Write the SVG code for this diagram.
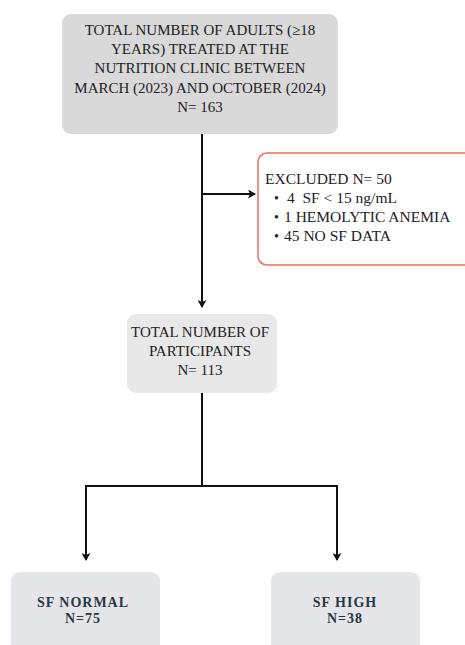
<svg xmlns="http://www.w3.org/2000/svg" width="465" height="645" viewBox="0 0 465 645">
<defs>
<style>
.t{font-family:"Liberation Serif","Times New Roman",serif;font-size:15px;fill:#222;text-anchor:middle}
.ex{font-family:"Liberation Serif","Times New Roman",serif;font-size:15.5px;fill:#222}
.bu{font-family:"Liberation Serif","Times New Roman",serif;font-size:14px;fill:#222}
.b{font-family:"Liberation Serif","Times New Roman",serif;font-size:14px;font-weight:bold;letter-spacing:1px;fill:#2b3645;text-anchor:middle}
.ln{stroke:#111;stroke-width:2;fill:none}
</style>
<marker id="ah" markerWidth="9" markerHeight="9" refX="7" refY="4.5" orient="auto" markerUnits="userSpaceOnUse">
<path d="M0,0 L8,4.5 L0,9 L2,4.5 Z" fill="#111"/>
</marker>
</defs>
<rect width="465" height="645" fill="#fff"/>
<g id="connectors">
<path class="ln" d="M202,134 V307" marker-end="url(#ah)"/>
<path class="ln" d="M202,194 H255" marker-end="url(#ah)"/>
<path class="ln" d="M202,393 V486 M86,486 H337"/>
<path class="ln" d="M86,485 V560" marker-end="url(#ah)"/>
<path class="ln" d="M337,485 V560" marker-end="url(#ah)"/>
</g>
<g id="node-total">
<rect x="62" y="14" width="276" height="120" rx="9" fill="#d9d9d9"/>
<text class="t" x="200" y="35">TOTAL NUMBER OF ADULTS (≥18</text>
<text class="t" x="200" y="54">YEARS) TREATED AT THE</text>
<text class="t" x="200" y="73">NUTRITION CLINIC BETWEEN</text>
<text class="t" x="200" y="93">MARCH (2023) AND OCTOBER (2024)</text>
<text class="t" x="200" y="112">N= 163</text>
</g>
<g id="node-excluded">
<rect x="258" y="153" width="220" height="112" rx="9" fill="#fff" stroke="#f26b5b" stroke-width="1.5"/>
<text class="ex" x="265" y="184">EXCLUDED N= 50</text>
<text class="bu" x="274" y="203">•</text>
<text class="ex" x="287" y="203" xml:space="preserve">4  SF &lt; 15 ng/mL</text>
<text class="bu" x="274" y="222">•</text>
<text class="ex" x="284" y="222">1 HEMOLYTIC ANEMIA</text>
<text class="bu" x="274" y="241">•</text>
<text class="ex" x="284" y="241">45 NO SF DATA</text>
</g>
<g id="node-participants">
<rect x="127" y="314" width="150" height="79" rx="9" fill="#e8e8e8"/>
<text class="t" x="200" y="337">TOTAL NUMBER OF</text>
<text class="t" x="200" y="356">PARTICIPANTS</text>
<text class="t" x="200" y="375">N= 113</text>
</g>
<g id="node-normal">
<rect x="11" y="572" width="149" height="90" rx="9" fill="#e5e6ea"/>
<text class="b" x="83" y="607">SF NORMAL</text>
<text class="b" x="83" y="623">N=75</text>
</g>
<g id="node-high">
<rect x="271" y="572" width="149" height="90" rx="9" fill="#e5e6ea"/>
<text class="b" x="345" y="607">SF HIGH</text>
<text class="b" x="345" y="623">N=38</text>
</g>
</svg>
